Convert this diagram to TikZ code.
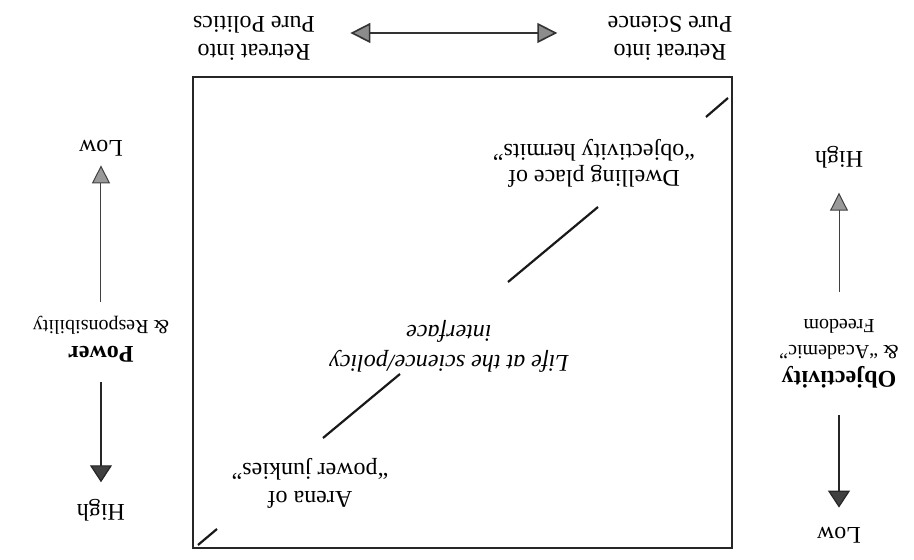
\documentclass[tikz,border=0pt]{standalone}
\usepackage{fontspec}
\setmainfont{Liberation Serif}
\usetikzlibrary{arrows.meta}
\tikzset{
  lbl/.style = {align=center, inner sep=0pt, font=\fontsize{12}{14}\selectfont},
  axislbl/.style = {align=center, inner sep=0pt, font=\fontsize{12}{13}\selectfont},
  frame/.style = {draw=black!85, line width=0.9pt, inner sep=0pt},
  diag/.style = {line width=1.1pt, black!90},
  darkarrow/.style = {draw=black!85, line width=0.6pt, -{Triangle[length=8.5pt, width=11pt, fill=black!75]}},
  greyarrow/.style = {draw=black!75, line width=0.5pt, -{Triangle[length=9pt, width=9pt, fill=black!40]}},
  biarrow/.style = {draw=black!80, line width=0.8pt,
    {Triangle[length=10pt, width=10pt, fill=black!45]}-{Triangle[length=10pt, width=10pt, fill=black!45]}},
}

\begin{document}
\begin{tikzpicture}[x=0.5pt, y=-0.5pt, rotate=180, transform shape]
  \useasboundingbox (0,0) rectangle (914,560);

  % Main frame
  \node[frame, minimum width=269.5pt, minimum height=235.5pt] (box) at (451.5,247.5) {};

  % Labels inside the frame
  \node[lbl] (arena) at (604,77) {Arena of\\``power junkies''};
  \node[lbl, font=\fontsize{12}{15}\selectfont\itshape] (life) at (465,214) {Life at the science/policy\\interface};
  \node[lbl, font=\fontsize{12}{13}\selectfont] (dwell) at (320,397) {Dwelling place of\\``objectivity hermits''};

  % Broken diagonal
  \draw[diag] (716,15) -- (697,31);
  \draw[diag] (591,122) -- (514,186);
  \draw[diag] (406,278) -- (316,353);
  \draw[diag] (208,443) -- (186,462);

  % Retreat labels
  \node[lbl] (science) at (244,522) {Retreat into\\Pure Science};
  \node[lbl] (politics) at (660,522) {Retreat into\\Pure Politics};
  \draw[biarrow, shorten <=25pt, shorten >=17.5pt] ([yshift=-2.5pt]science.east) -- ([yshift=-2.5pt]politics.west);

  % Power axis
  \node[axislbl] (phigh) at (813,50) {High};
  \node[axislbl] (power) at (813,221) {\textbf{Power}\\{\fontsize{10}{13}\selectfont\& Responsibility}};
  \node[axislbl] (plow) at (813,412) {Low};
  \draw[darkarrow, shorten <=10pt, shorten >=8.2pt] (power) -- (phigh);
  \draw[greyarrow, shorten <=7pt, shorten >=4.5pt] (power) -- (plow);

  % Objectivity axis
  \node[axislbl] (olow) at (75,25) {Low};
  \node[axislbl] (obj) at (75,206) {\textbf{Objectivity}\\{\fontsize{10}{13}\selectfont\& ``Academic''}\\{\fontsize{10}{13}\selectfont Freedom}};
  \node[axislbl] (ohigh) at (75,403) {High};
  \draw[darkarrow, shorten <=13.2pt, shorten >=9.5pt] (obj) -- (olow);
  \draw[greyarrow, shorten <=13.7pt, shorten >=12.2pt] (obj) -- (ohigh);

\end{tikzpicture}
\end{document}
